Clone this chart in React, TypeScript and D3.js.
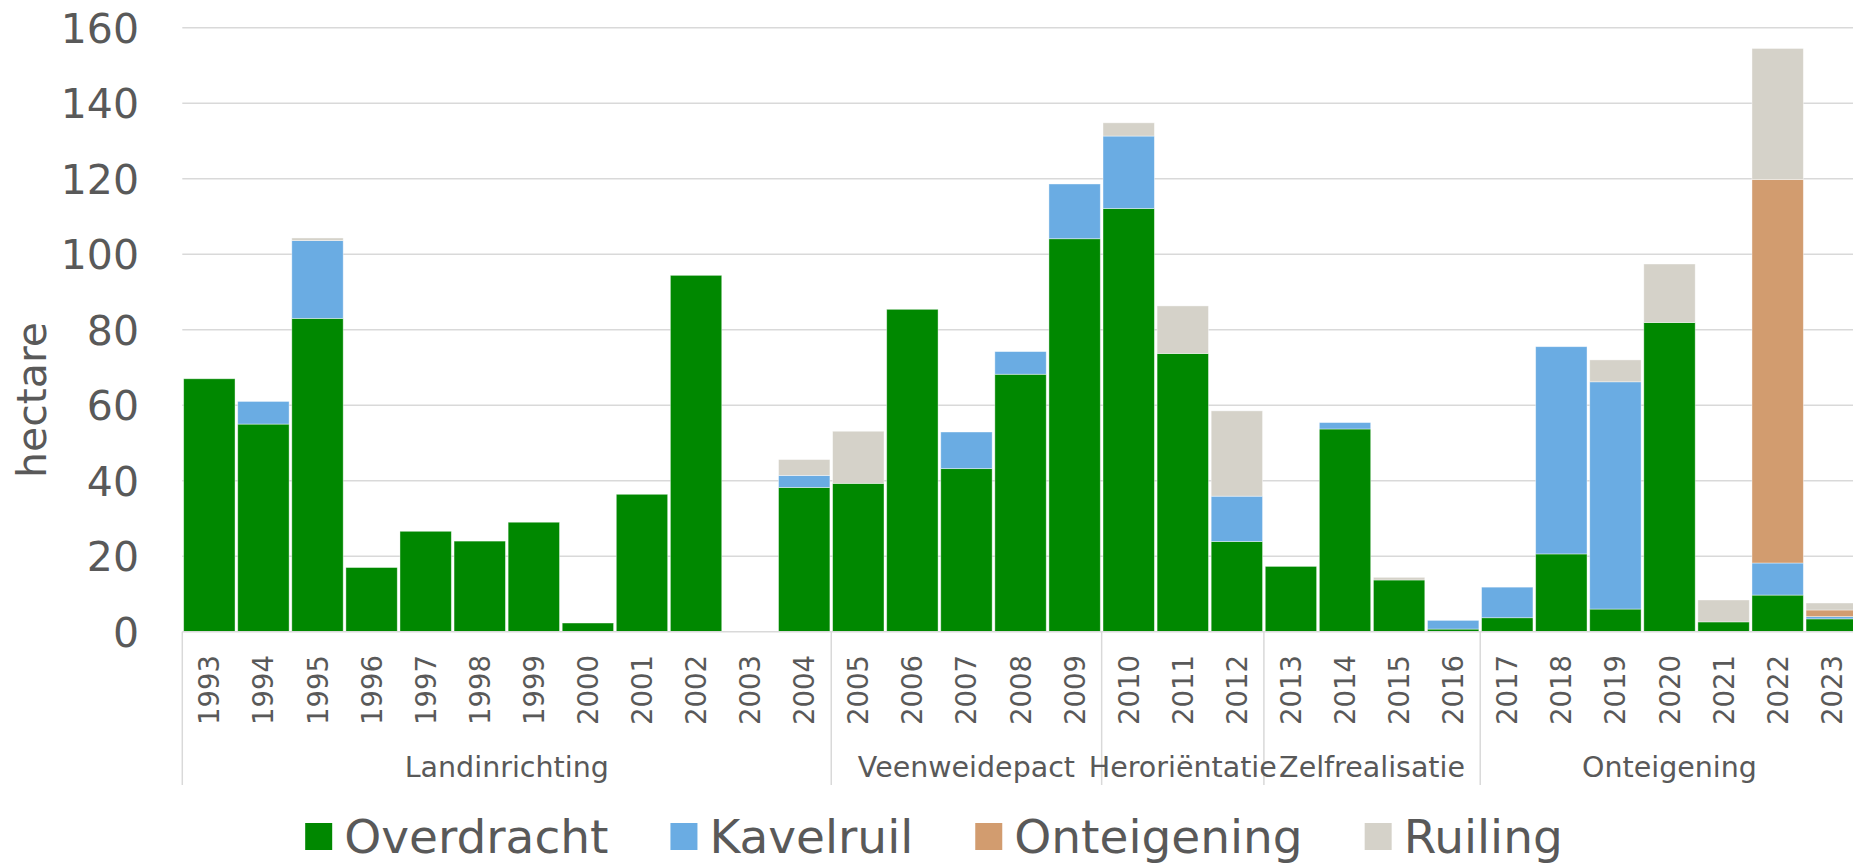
import { useEffect, useRef } from "react"
import * as d3 from "d3"

const years = [
  "1993", "1994", "1995", "1996", "1997", "1998", "1999", "2000", "2001", "2002", "2003",
  "2004", "2005", "2006", "2007", "2008", "2009", "2010", "2011", "2012", "2013", "2014",
  "2015", "2016", "2017", "2018", "2019", "2020", "2021", "2022", "2023",
]

const overdracht = [67, 55, 83, 17, 26.6, 24, 29, 2.3, 36.4, 94.4, 0, 38.2, 39.3, 85.4, 43.2, 68.2, 104.1, 112.1, 73.7, 23.9, 17.3, 53.7, 13.7, 0.7, 3.7, 20.6, 6, 81.9, 2.6, 9.7, 3.4]
const kavelruil = [0, 6, 20.6, 0, 0, 0, 0, 0, 0, 0, 0, 3.2, 0, 0, 9.7, 6, 14.5, 19.2, 0, 12, 0, 1.7, 0, 2.3, 8.1, 54.9, 60.2, 0, 0, 8.5, 0.6]
const onteigening = [0, 0, 0, 0, 0, 0, 0, 0, 0, 0, 0, 0, 0, 0, 0, 0, 0, 0, 0, 0, 0, 0, 0, 0, 0, 0, 0, 0, 0, 101.6, 1.75]
const ruiling = [0, 0, 0.7, 0, 0, 0, 0, 0, 0, 0, 0, 4.2, 13.8, 0, 0, 0, 0, 3.5, 12.6, 22.6, 0, 0, 0.7, 0, 0, 0, 5.8, 15.5, 5.8, 34.7, 1.85]

const seriesNames = ["Overdracht", "Kavelruil", "Onteigening", "Ruiling"]
const seriesColors = ["#008800", "#6aace3", "#d29c6f", "#d5d2c9"]

const groups = ["Landinrichting", "Veenweidepact", "Heroriëntatie", "Zelfrealisatie", "Onteigening"]
const groupSizes = [12, 5, 3, 4, 7]

const yTicks = [0, 20, 40, 60, 80, 100, 120, 140, 160]

export default function App() {
  const svgRef = useRef(null)

  useEffect(() => {
    if (!svgRef.current) return
    const svg = d3.select(svgRef.current)
    svg.selectAll("*").remove()

    const width = 1853
    const height = 863
    const left = 182.3
    const step = 54.08
    const top = 27.7
    const bottom = 631.7
    const textColor = "#595959"
    const gridColor = "#d9d9d9"
    const font = "'DejaVu Sans', Verdana, sans-serif"

    const rows = years.map((y, i) => ({
      year: y,
      Overdracht: overdracht[i],
      Kavelruil: kavelruil[i],
      Onteigening: onteigening[i],
      Ruiling: ruiling[i],
    }))

    const x = d3
      .scaleBand()
      .domain(years)
      .range([left, left + step * years.length])
      .paddingInner(0.05)
      .paddingOuter(0.025)
    const bandStart = (y) => x(y) - (x.step() * 0.05) / 2

    const y = d3.scaleLinear().domain([0, 160]).range([bottom, top])

    // gridlines
    svg
      .append("g")
      .selectAll("line")
      .data(yTicks.filter((t) => t > 0))
      .enter()
      .append("line")
      .attr("x1", left)
      .attr("x2", width)
      .attr("y1", (d) => y(d))
      .attr("y2", (d) => y(d))
      .attr("stroke", gridColor)
      .attr("stroke-width", 1.5)

    // y tick labels
    svg
      .append("g")
      .selectAll("text")
      .data(yTicks)
      .enter()
      .append("text")
      .attr("x", 139)
      .attr("y", (d) => y(d) + 15)
      .attr("text-anchor", "end")
      .attr("font-family", font)
      .attr("font-size", 41)
      .attr("fill", textColor)
      .text((d) => d)

    // y axis title
    svg
      .append("text")
      .attr("transform", "translate(46,400) rotate(-90)")
      .attr("text-anchor", "middle")
      .attr("font-family", font)
      .attr("font-size", 41)
      .attr("fill", textColor)
      .text("hectare")

    // stacked bars
    const stack = d3.stack().keys(seriesNames)(rows)
    const layer = svg
      .append("g")
      .selectAll("g")
      .data(stack)
      .enter()
      .append("g")
      .attr("fill", (d, i) => seriesColors[i])

    layer
      .selectAll("rect")
      .data((d) => d.filter((s) => s[1] - s[0] > 0))
      .enter()
      .append("rect")
      .attr("x", (d) => x(d.data.year))
      .attr("y", (d) => y(d[1]))
      .attr("width", x.bandwidth())
      .attr("height", (d) => y(d[0]) - y(d[1]))
      .attr("stroke", "#ffffff")
      .attr("stroke-opacity", 0.5)
      .attr("stroke-width", 0.8)

    // x axis line
    svg
      .append("line")
      .attr("x1", left)
      .attr("x2", width)
      .attr("y1", bottom)
      .attr("y2", bottom)
      .attr("stroke", gridColor)
      .attr("stroke-width", 1.5)

    // year labels
    svg
      .append("g")
      .selectAll("text")
      .data(years)
      .enter()
      .append("text")
      .attr("transform", (d) => `translate(${x(d) + x.bandwidth() / 2 + 10},655) rotate(-90)`)
      .attr("text-anchor", "end")
      .attr("font-family", font)
      .attr("font-size", 27.5)
      .attr("fill", textColor)
      .text((d) => d)

    // group separators and labels
    let idx = 0
    const bounds = [0]
    groupSizes.forEach((n) => {
      idx += n
      bounds.push(idx)
    })
    const boundX = (i) => (i < years.length ? bandStart(years[i]) : bandStart(years[years.length - 1]) + x.step())

    svg
      .append("g")
      .selectAll("line")
      .data(bounds)
      .enter()
      .append("line")
      .attr("x1", (d) => boundX(d))
      .attr("x2", (d) => boundX(d))
      .attr("y1", bottom)
      .attr("y2", 785)
      .attr("stroke", gridColor)
      .attr("stroke-width", 1.5)

    svg
      .append("g")
      .selectAll("text")
      .data(groups)
      .enter()
      .append("text")
      .attr("x", (d, i) => (boundX(bounds[i]) + boundX(bounds[i + 1])) / 2)
      .attr("y", 777)
      .attr("text-anchor", "middle")
      .attr("font-family", font)
      .attr("font-size", 28.5)
      .attr("fill", textColor)
      .text((d) => d)

    // legend
    const legend = svg.append("g")
    const items = legend
      .selectAll("g")
      .data(seriesNames)
      .enter()
      .append("g")
    items
      .append("rect")
      .attr("width", 27)
      .attr("height", 27)
      .attr("y", 823)
      .attr("fill", (d, i) => seriesColors[i])
    const labels = items
      .append("text")
      .attr("y", 853)
      .attr("font-family", font)
      .attr("font-size", 47)
      .attr("fill", textColor)
      .text((d) => d)

    const widths = []
    labels.each(function () {
      widths.push(this.getComputedTextLength())
    })
    const sq = 27
    const gap = 12
    const between = 62
    const total = d3.sum(widths) + seriesNames.length * (sq + gap) + between * (seriesNames.length - 1)
    let cx = 934 - total / 2
    items.each(function (d, i) {
      d3.select(this).attr("transform", `translate(${cx},0)`)
      d3.select(this).select("text").attr("x", sq + gap)
      cx += sq + gap + widths[i] + between
    })

    svg.attr("width", width).attr("height", height).attr("viewBox", [0, 0, width, height])
  }, [])

  return (
    <div style={{ position: "absolute", left: 0, top: 0, width: 1853, height: 863, overflow: "hidden", background: "#fff" }}>
      <svg ref={svgRef} style={{ display: "block" }}></svg>
    </div>
  )
}
